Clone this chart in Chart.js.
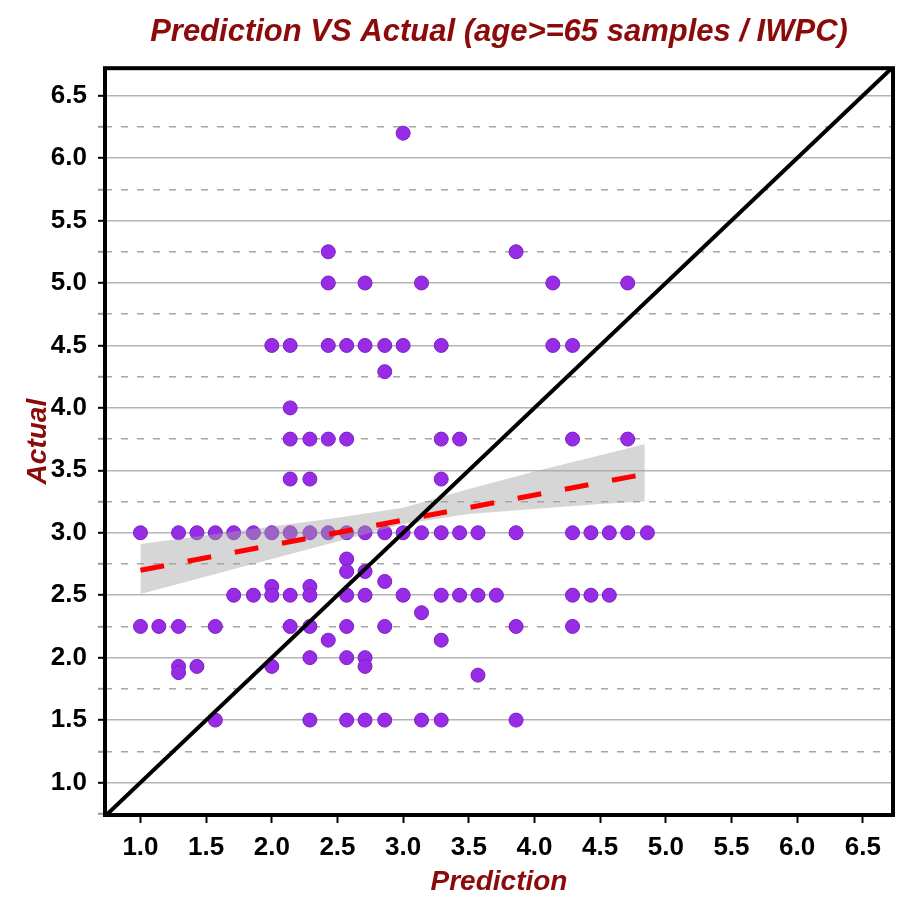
<!DOCTYPE html>
<html>
<head>
<meta charset="utf-8">
<script src="https://cdn.jsdelivr.net/npm/chart.js@4.4.1/dist/chart.umd.min.js"></script>
<style>
html,body{margin:0;padding:0;background:#fff;}
canvas{display:block;}
</style>
</head>
<body>
<canvas id="myChart" width="909" height="909"></canvas>
<script>
// tick values
const xTicks=[1.0,1.5,2.0,2.5,3.0,3.5,4.0,4.5,5.0,5.5,6.0,6.5];
const yTicks=[1.0,1.5,2.0,2.5,3.0,3.5,4.0,4.5,5.0,5.5,6.0,6.5];
const yMinorTicks=[0.75,1.25,1.75,2.25,2.75,3.25,3.75,4.25,4.75,5.25,5.75,6.25];

// samples (prediction, actual)
const predicted=[
    3.00,
    2.43,3.86,
    2.43,2.71,3.14,4.14,4.71,
    2.00,2.14,2.43,2.57,2.71,2.86,3.00,3.29,4.14,4.29,
    2.86,
    2.14,
    2.14,2.29,2.43,2.57,3.29,3.43,4.29,4.71,
    2.14,2.29,3.29,
    1.00,1.29,1.43,1.57,1.71,1.86,2.00,2.14,2.29,2.43,2.57,2.71,2.86,3.00,3.14,3.29,3.43,3.57,3.86,4.29,4.43,4.57,4.71,4.86,
    2.57,
    2.57,2.71,
    2.86,
    2.00,2.29,
    1.71,1.86,2.00,2.14,2.29,2.57,2.71,3.00,3.29,3.43,3.57,3.71,4.29,4.43,4.57,
    3.14,
    1.00,1.14,1.29,1.57,2.14,2.29,2.57,2.86,3.86,4.29,
    2.43,3.29,
    2.29,2.57,2.71,
    1.29,1.43,2.00,2.71,
    1.29,
    3.57,
    1.57,2.29,2.57,2.71,2.86,3.14,3.29,3.86
];
const actual=[
    6.20,
    5.25,5.25,
    5.00,5.00,5.00,5.00,5.00,
    4.50,4.50,4.50,4.50,4.50,4.50,4.50,4.50,4.50,4.50,
    4.29,
    4.00,
    3.75,3.75,3.75,3.75,3.75,3.75,3.75,3.75,
    3.43,3.43,3.43,
    3.00,3.00,3.00,3.00,3.00,3.00,3.00,3.00,3.00,3.00,3.00,3.00,3.00,3.00,3.00,3.00,3.00,3.00,3.00,3.00,3.00,3.00,3.00,3.00,
    2.79,
    2.69,2.69,
    2.61,
    2.57,2.57,
    2.50,2.50,2.50,2.50,2.50,2.50,2.50,2.50,2.50,2.50,2.50,2.50,2.50,2.50,2.50,
    2.36,
    2.25,2.25,2.25,2.25,2.25,2.25,2.25,2.25,2.25,2.25,
    2.14,2.14,
    2.00,2.00,2.00,
    1.93,1.93,1.93,1.93,
    1.88,
    1.86,
    1.50,1.50,1.50,1.50,1.50,1.50,1.50,1.50
];

// regression line and its confidence band
const fitX=[1.00,4.84];
const fitY=[2.70,3.47];
const bandX=[1.00,1.50,2.00,2.50,3.00,3.50,4.00,4.50,4.84];
const bandUpper=[2.91,2.98,3.05,3.12,3.20,3.35,3.49,3.62,3.71];
const bandLower=[2.51,2.65,2.79,2.93,3.07,3.15,3.19,3.23,3.25];

// identity line y = x
const diagLine=[0.73,6.73];

const toPoints=(xs,ys)=>xs.map((x,i)=>({x:x,y:ys[i]}));
const isMajor=(v)=>yTicks.includes(v);

const darkRed='#8b0a0a';
const tickFont={family:"'Liberation Sans', Arial, sans-serif",size:26,weight:'bold'};
const titleFont={family:"'Liberation Sans', Arial, sans-serif",size:28,weight:'bold',style:'italic'};

// thick black frame round the plot area
const frame={
    id:'frame',
    afterDatasetsDraw(chart){
        const {ctx,chartArea:a}=chart;
        ctx.save();
        ctx.strokeStyle='#000';
        ctx.lineWidth=4;
        ctx.strokeRect(a.left,a.top,a.right-a.left,a.bottom-a.top);
        ctx.restore();
    }
};

var ctx=document.getElementById('myChart').getContext('2d');
var myChart=new Chart(ctx,{
    type:'scatter',
    data:{
        datasets:[
            {
                label:'y = x',
                data:[{x:diagLine[0],y:diagLine[0]},{x:diagLine[1],y:diagLine[1]}],
                showLine:true,
                borderColor:'#000',
                borderWidth:4,
                pointRadius:0,
                order:0
            },
            {
                label:'fit',
                data:toPoints(fitX,fitY),
                showLine:true,
                borderColor:'#ff0000',
                borderWidth:5,
                borderDash:[24,24],
                pointRadius:0,
                order:1
            },
            {
                label:'upper',
                data:toPoints(bandX,bandUpper),
                showLine:true,
                borderColor:'rgba(0,0,0,0)',
                borderWidth:0,
                pointRadius:0,
                fill:'+1',
                backgroundColor:'rgba(165,165,165,0.45)',
                order:2
            },
            {
                label:'lower',
                data:toPoints(bandX,bandLower),
                showLine:true,
                borderColor:'rgba(0,0,0,0)',
                borderWidth:0,
                pointRadius:0,
                fill:false,
                order:3
            },
            {
                label:'samples',
                data:toPoints(predicted,actual),
                pointRadius:7,
                pointBackgroundColor:'#982ce6',
                pointBorderColor:'#7a1fc0',
                pointBorderWidth:1,
                showLine:false,
                order:4
            }
        ]
    },
    options:{
        responsive:false,
        animation:false,
        devicePixelRatio:1,
        layout:{padding:{left:0,right:16,top:0,bottom:0}},
        plugins:{
            legend:{display:false},
            tooltip:{enabled:false},
            title:{
                display:true,
                fullSize:false,
                text:'Prediction VS Actual (age>=65 samples / IWPC)',
                color:darkRed,
                font:{family:"'Liberation Sans', Arial, sans-serif",size:31,weight:'bold',style:'italic'},
                padding:{top:14,bottom:17}
            }
        },
        scales:{
            x:{
                type:'linear',
                min:0.73,
                max:6.73,
                afterBuildTicks:(s)=>{s.ticks=xTicks.map(v=>({value:v}));},
                afterFit:(s)=>{s.height=94;},
                ticks:{
                    callback:(v)=>Number(v).toFixed(1),
                    font:tickFont,
                    color:'#000',
                    padding:9,
                    maxRotation:0,
                    autoSkip:false
                },
                grid:{drawOnChartArea:false,tickLength:8,tickColor:'#000',tickWidth:2},
                border:{display:false},
                title:{display:true,text:'Prediction',color:darkRed,font:titleFont,padding:{top:0,bottom:10}}
            },
            y:{
                type:'linear',
                min:0.74,
                max:6.72,
                afterBuildTicks:(s)=>{
                    s.ticks=yMinorTicks.concat(yTicks).sort((a,b)=>a-b).map(v=>({value:v}));
                },
                afterFit:(s)=>{s.width=105;},
                ticks:{
                    callback:(v)=>isMajor(v)?Number(v).toFixed(1):'',
                    font:tickFont,
                    color:'#000',
                    padding:11,
                    autoSkip:false
                },
                grid:{
                    color:(c)=>(c.tick&&isMajor(c.tick.value))?'#b4b4b4':'#a6a6a6',
                    lineWidth:1.6,
                    tickLength:7,
                    tickWidth:2,
                    tickColor:(c)=>(c.tick&&isMajor(c.tick.value))?'#000':'#9a9a9a'
                },
                border:{
                    display:false,
                    dash:(c)=>(c.tick&&!isMajor(c.tick.value))?[7,9]:[]
                },
                title:{display:true,text:'Actual',color:darkRed,font:titleFont,padding:{top:21,bottom:0}}
            }
        }
    },
    plugins:[frame]
});
</script>
</body>
</html>
